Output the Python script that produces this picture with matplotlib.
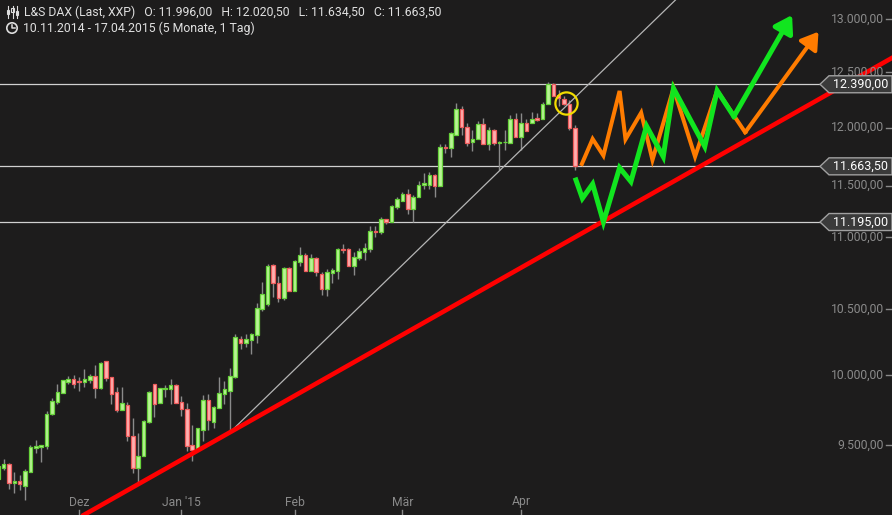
import matplotlib
matplotlib.use("Agg")
import matplotlib.pyplot as plt
import pandas as pd
from matplotlib.patches import Polygon, Circle, Rectangle
from matplotlib.lines import Line2D
from matplotlib.transforms import IdentityTransform

# --- data: L&S DAX daily candles 10.11.2014 - 17.04.2015 ---
holidays = ["2014-12-24", "2014-12-25", "2014-12-26", "2014-12-31",
            "2015-01-01", "2015-04-03", "2015-04-06"]
dates = pd.bdate_range("2014-11-10", "2015-04-17")
dates = dates[~dates.isin(pd.to_datetime(holidays))]

opens = [9268, 9343, 9371, 9240, 9254, 9220, 9316, 9476, 9483, 9490,
         9716, 9808, 9874, 9948, 9970, 9955, 9948, 9963, 9993, 9904,
         10104, 9985, 9881, 9751, 9787, 9560, 9343, 9426, 9660, 9937,
         9801, 9900, 9897, 9926, 9808, 9758, 9497, 9462, 9603, 9822,
         9660, 9765, 9867, 9889, 9985, 10273, 10243, 10265, 10304, 10504,
         10543, 10849, 10705, 10589, 10825, 10643, 10873, 10930, 10801, 10906,
         10777, 10659, 10785, 10801, 10974, 10978, 10841, 10906, 10954, 10978,
         11123, 11115, 11220, 11195, 11322, 11372, 11431, 11305, 11406, 11507,
         11507, 11592, 11499, 11833, 11824, 11939, 12168, 12009, 11877, 11903,
         12035, 11859, 11983, 11868, 11872, 11868, 12079, 11921, 12044, 12044,
         12088, 12079, 12212, 12393, 12292, 12256, 12212, 11996]
highs = [9384, 9405, 9378, 9316, 9295, 9336, 9497, 9532, 9500, 9744,
         9837, 9933, 9967, 9993, 10000, 9985, 10044, 10007, 10074, 10096,
         10108, 9990, 9911, 9911, 9808, 9688, 9582, 9680, 9885, 9940,
         9908, 9926, 9970, 9933, 9852, 9801, 9638, 9620, 9859, 9867,
         9780, 9985, 9955, 10052, 10311, 10296, 10311, 10319, 10551, 10713,
         10857, 10853, 10760, 10833, 10830, 10889, 10994, 10946, 10938, 10910,
         10793, 10817, 10825, 10986, 11018, 10982, 10954, 10986, 11026, 11164,
         11164, 11236, 11224, 11339, 11406, 11448, 11474, 11423, 11541, 11608,
         11617, 11596, 11860, 11860, 11960, 12221, 12194, 12044, 11983, 12062,
         12088, 12009, 11986, 11880, 11983, 12115, 12132, 12132, 12079, 12141,
         12132, 12229, 12411, 12402, 12338, 12283, 12247, 12020.5]
lows = [9247, 9330, 9199, 9172, 9192, 9124, 9310, 9447, 9384, 9469,
        9712, 9794, 9870, 9933, 9904, 9889, 9911, 9941, 9837, 9900,
        9955, 9794, 9737, 9748, 9525, 9309, 9240, 9422, 9655, 9695,
        9798, 9845, 9794, 9795, 9702, 9455, 9391, 9458, 9525, 9603,
        9617, 9762, 9794, 9589, 9980, 10199, 10214, 10155, 10243, 10489,
        10520, 10597, 10558, 10571, 10640, 10638, 10841, 10797, 10797, 10761,
        10612, 10604, 10705, 10736, 10946, 10837, 10769, 10889, 10889, 10954,
        11075, 11099, 11180, 11192, 11305, 11368, 11263, 11195, 11402, 11474,
        11474, 11406, 11495, 11780, 11745, 11935, 11939, 11842, 11798, 11900,
        11855, 11806, 11851, 11632, 11806, 11865, 11918, 11806, 11970, 12040,
        12062, 12075, 12208, 12280, 12194, 12203, 11980, 11634.5]
closes = [9357, 9371, 9240, 9254, 9233, 9323, 9483, 9490, 9497, 9723,
          9815, 9881, 9963, 9970, 9933, 9948, 9970, 9993, 9904, 10089,
          9978, 9867, 9751, 9801, 9560, 9343, 9426, 9667, 9881, 9794,
          9904, 9904, 9926, 9801, 9758, 9490, 9462, 9617, 9822, 9674,
          9773, 9874, 9897, 9993, 10288, 10243, 10273, 10311, 10512, 10620,
          10841, 10705, 10589, 10825, 10643, 10881, 10930, 10801, 10906, 10793,
          10659, 10793, 10809, 10978, 10970, 10841, 10914, 10962, 10986, 11123,
          11115, 11220, 11195, 11330, 11389, 11431, 11305, 11406, 11507, 11524,
          11592, 11499, 11833, 11824, 11956, 12168, 12009, 11868, 11903, 12035,
          11859, 11983, 11868, 11877, 11877, 12079, 11921, 12044, 11974, 12079,
          12070, 12212, 12393, 12283, 12265, 12212, 11996, 11663.5]

# horizontal levels
levels = [12390.0, 11663.5, 11195.0]

# trend lines (index, price)
support_pts = [(43, 9589), (112, 11195)]
thin_trend_x = [43, 126]
thin_trend_y = [9589, 13200]

# drawn projection paths (last point = arrow tip)
green_x = [107.2, 108.4, 110.3, 112.3, 115.3, 117.4, 120.3, 123.4, 125.3, 131.1, 133.4, 136.5, 147.3]
green_y = [11547, 11392, 11513, 11195, 11652, 11533, 12015, 11747, 12353, 11835, 12332, 12100, 13038]
orange_x = [108.3, 110.3, 112.3, 115.3, 116.4, 119.3, 121.4, 125.3, 129.3, 133.4, 138.6, 152.2]
orange_y = [11684, 11901, 11756, 12329, 11898, 12133, 11718, 12353, 11747, 12332, 11959, 12879]
circle_pt = (105.3, 12221)

y_ticks = [9500, 10000, 10500, 11000, 11500, 12000, 12500, 13000]
month_labels = ["Dez", "Jan '15", "Feb", "Mär", "Apr"]


def de(v):
    s = f"{v:,.2f}"
    return s.replace(",", "X").replace(".", ",").replace("X", ".")


BG = "#1d1c1c"
W, H = 892, 515

fig = plt.figure(figsize=(W / 100, H / 100), dpi=100)
fig.patch.set_facecolor(BG)
ax = fig.add_axes([0, 0, 1, 1])
ax.set_yscale("log")
ax.set_xlim(0.35, 165.84)
ax.set_ylim(9023, 13183)
ax.axis("off")

# levels
for lv in levels:
    ax.plot([0.35, 152.5], [lv, lv], color="#d0d0d0", lw=0.9, zorder=1)

# candles
x = list(range(len(opens)))
ax.vlines(x, lows, highs, colors="#8a8a8a", lw=1.0, zorder=2)
for i in x:
    o, c = opens[i], closes[i]
    up = c >= o
    fc = "#b9f495" if up else "#ffb0b0"
    ec = "#66d13a" if up else "#ee5c5c"
    lo, hi = min(o, c), max(o, c)
    if hi - lo < 4:
        hi = lo + 4
    ax.add_patch(Rectangle((i - 0.33, lo), 0.66, hi - lo, fc=fc, ec=ec, lw=0.9, zorder=3))

# trend lines
ax.plot(thin_trend_x, thin_trend_y, color="#b5b5b5", lw=0.9, zorder=4)
ax.axline(support_pts[0], support_pts[1], color="#ff0000", lw=3.3, zorder=5)

# projection arrows
for px_, py_, col, lw in [(orange_x, orange_y, "#ff7c00", 2.9), (green_x, green_y, "#11e51f", 3.6)]:
    ax.plot(px_[:-1], py_[:-1], color=col, lw=lw, solid_joinstyle="miter", zorder=6)
    ax.annotate("", xy=(px_[-1], py_[-1]), xytext=(px_[-2], py_[-2]),
                arrowprops=dict(arrowstyle="-|>,head_length=0.5,head_width=0.32",
                                color=col, lw=lw, shrinkA=0, shrinkB=0,
                                mutation_scale=20), zorder=6)

ax.plot(*circle_pt, marker="o", ms=16, mfc="none", mec="#f2dc00", mew=1.6, zorder=7)

# y-axis labels (inside the plot, right)
for v in y_ticks:
    yd = ax.transData.transform((0, v))[1]
    if v == 11000:
        yd += 9
    fig.text(884 / W, yd / H, de(v), color="#8a8a8a", fontsize=8.7,
             family="Roboto", ha="right", va="center")
    fig.add_artist(Line2D([886, 891], [yd, yd], color="#8a8a8a", lw=1,
                          transform=IdentityTransform()))

# value boxes
for lv in levels:
    yd = ax.transData.transform((0, lv))[1]
    verts = [(820, yd), (829, yd + 8.5), (892, yd + 8.5), (892, yd - 8.5), (829, yd - 8.5)]
    fig.add_artist(Polygon(verts, closed=True, fc="#3a3a3a", ec="#a0a0a0", lw=1,
                           transform=IdentityTransform(), zorder=8))
    fig.text(833 / W, yd / H, de(lv), color="white", fontsize=9, family="Roboto",
             ha="left", va="center", zorder=9)

# x-axis month labels
month_idx = [i for i in range(1, len(dates)) if dates[i].month != dates[i - 1].month]
xtr = ax.get_xaxis_transform()
for i, lab in zip(month_idx, month_labels):
    ax.text(i, 1 - 502 / H, lab, transform=xtr, color="#8a8a8a", fontsize=8.7,
            family="Roboto", ha="center", va="center")
    ax.plot([i, i], [0, 5 / H], transform=xtr, color="#8a8a8a", lw=1)

# header
hdr = (f"L&S DAX (Last, XXP)   O: {de(opens[-1])}   H: {de(highs[-1])}   "
       f"L: {de(lows[-1])}   C: {de(closes[-1])}")
per = f"{dates[0]:%d.%m.%Y} - {dates[-1]:%d.%m.%Y} (5 Monate, 1 Tag)"
fig.text(24 / W, 1 - 12 / H, hdr, color="#e0e0e0", fontsize=8.8, family="Roboto",
         ha="left", va="center")
fig.text(23 / W, 1 - 28 / H, per, color="#e0e0e0", fontsize=8.8, family="Roboto",
         ha="left", va="center")

# icons
for cx, b0, b1 in [(8, 10, 14), (12.5, 8, 12), (17, 11, 15)]:
    fig.add_artist(Line2D([cx, cx], [H - 6, H - 18], color="#dddddd", lw=0.8,
                          transform=IdentityTransform()))
    fig.add_artist(Rectangle((cx - 1.3, H - b1), 2.6, b1 - b0, fc="none", ec="#dddddd",
                             lw=0.8, transform=IdentityTransform()))
fig.add_artist(Circle((12, H - 28), 5.2, fc="none", ec="#dddddd", lw=1.2,
                      transform=IdentityTransform()))
fig.add_artist(Line2D([12, 12, 14.5], [H - 24.5, H - 28, H - 28], color="#dddddd",
                      lw=1.1, transform=IdentityTransform()))

fig.savefig("out.png", dpi=100, facecolor=BG)
